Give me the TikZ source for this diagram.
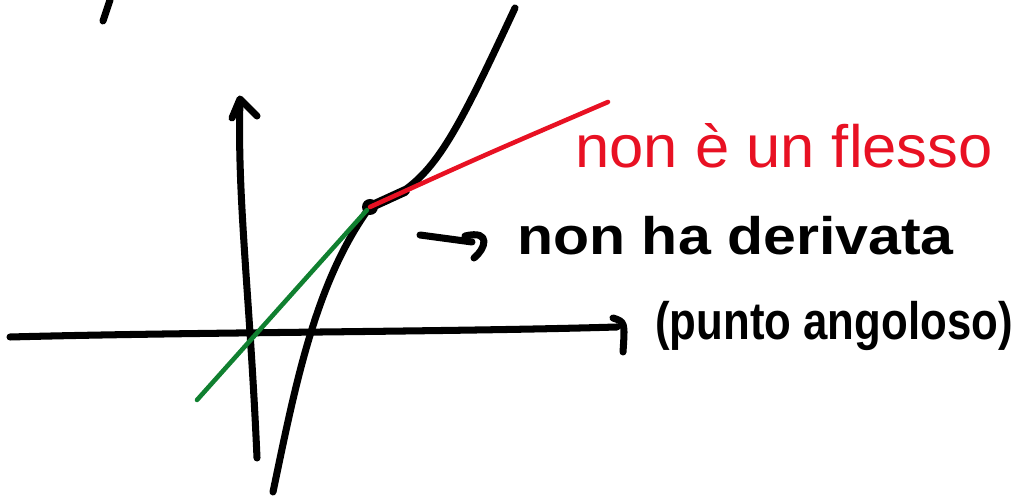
\documentclass[tikz,border=0pt]{standalone}
\usepackage{fontspec}
\setmainfont{Liberation Sans}
\usetikzlibrary{arrows.meta}
\definecolor{handred}{RGB}{232,17,35}
\definecolor{handgreen}{RGB}{16,128,48}
\begin{document}
\begin{tikzpicture}[
  pen/.style={line width=4pt, line cap=round, line join=round},
  thinpen/.style={line width=2.6pt, line cap=round, line join=round},
  note/.style={font=\fontsize{30}{36}\selectfont\bfseries, inner sep=0pt, anchor=base west},
]
\useasboundingbox (0,0) rectangle (20.7,9.94);

% Stray stroke at the top
\draw[pen] (2.2,9.94) -- (2.06,9.52);

% Axes
\draw[pen] (5.14,0.78) .. controls (5.0,4.0) and (4.74,6.0) .. (4.8,7.94);
\draw[pen] (4.64,7.58) -- (4.8,7.96) -- (5.14,7.62);
\draw[pen] (0.2,3.2) .. controls (4,3.3) and (9,3.3) .. (12.34,3.4);
\draw[pen] (12.26,3.58) .. controls (12.5,3.5) .. (12.46,2.9);

% Function with the corner point
\draw[pen] (5.46,0.1) .. controls (5.9,2.2) and (6.3,4.3) .. (7.4,5.8)
  .. controls (8.6,6.2) and (9.0,7.0) .. (10.3,9.78);
\draw[line width=5.5pt, line cap=round] (7.4,5.8) -- (8.1,6.12);
\fill (7.4,5.8) circle (0.16);

% Left and right tangents
\draw[thinpen, handgreen] (3.94,1.94) -- (7.34,5.74);
\draw[thinpen, handred] (7.4,5.8) .. controls (9.6,6.8) .. (12.16,7.9);

% Notes
\node[note, text=handred, font=\fontsize{34}{40}\selectfont] (flesso) at (11.5,6.58) {\scalebox{1.03}[1]{non è un flesso}};
\node[note] (deriv) at (10.34,4.84) {\scalebox{1.12}[1]{non ha derivata}};
\node[note] (angolo) at (13.1,3.14) {\scalebox{0.83}[1]{(punto angoloso)}};

\coordinate (arrS) at (8.4,5.24);
\draw[pen] (arrS) -- ([xshift=-0.9cm, yshift=0.26cm]deriv.base west);
\draw[pen] ([xshift=-1.04cm, yshift=0.38cm]deriv.base west)
  .. controls ([xshift=-0.49cm, yshift=0.51cm]deriv.base west) and ([xshift=-0.64cm, yshift=0.11cm]deriv.base west)
  .. ([xshift=-0.86cm, yshift=-0.06cm]deriv.base west);
\end{tikzpicture}
\end{document}
